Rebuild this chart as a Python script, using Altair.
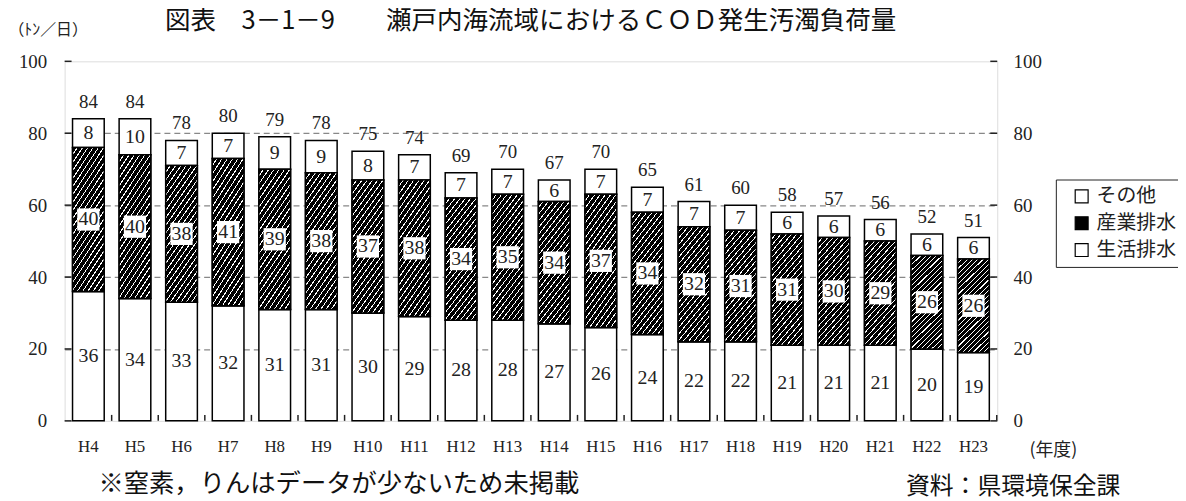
import altair as alt
import pandas as pd

# ---- data ----
years = ["H4", "H5", "H6", "H7", "H8", "H9", "H10", "H11", "H12", "H13",
         "H14", "H15", "H16", "H17", "H18", "H19", "H20", "H21", "H22", "H23"]
domestic = [36, 34, 33, 32, 31, 31, 30, 29, 28, 28, 27, 26, 24, 22, 22, 21, 21, 21, 20, 19]   # 生活排水
industry = [40, 40, 38, 41, 39, 38, 37, 38, 34, 35, 34, 37, 34, 32, 31, 31, 30, 29, 26, 26]   # 産業排水
other = [8, 10, 7, 7, 9, 9, 8, 7, 7, 7, 6, 7, 7, 7, 7, 6, 6, 6, 6, 6]                          # その他
totals = [84, 84, 78, 80, 79, 78, 75, 74, 69, 70, 67, 70, 65, 61, 60, 58, 57, 56, 52, 51]
series_names = ["その他", "産業排水", "生活排水"]
y_ticks = [0, 20, 40, 60, 80, 100]

title_text = "図表　3－1－9　　瀬戸内海流域におけるＣＯＤ発生汚濁負荷量"
unit_text = "（ﾄﾝ／日）"
xtitle_text = "(年度)"
note_text = "※窒素，りんはデータが少ないため未掲載"
source_text = "資料：県環境保全課"

rows = []
for i, yr in enumerate(years):
    for name, vals, order in (("生活排水", domestic, 0), ("産業排水", industry, 1), ("その他", other, 2)):
        rows.append({"year": yr, "series": name, "value": vals[i], "ord": order})
df = pd.DataFrame(rows)
tot_df = pd.DataFrame({"year": years, "total": totals})
ticks_df = pd.DataFrame({"v": y_ticks})
years_df = pd.DataFrame({"year": years})

W, H = 939, 362
SERIF = "Liberation Serif"
JP = "Noto Sans CJK JP"

x_scale = alt.Scale(domain=years, paddingInner=0.32, paddingOuter=0.17)
y_scale = alt.Scale(domain=[0, 100], nice=False)

x_axis = alt.Axis(title=xtitle_text, labelAngle=0, ticks=False, domain=False,
                  labelPadding=18, labelFont=SERIF, labelFontSize=17, labelColor="#222",
                  titleX=995, titleY=30, titleAlign="center", titleBaseline="middle",
                  titleFont=JP, titleFontSize=18, titleFontWeight="normal", titleColor="#222")
x_enc = alt.X("year:N", scale=x_scale, sort=years, axis=x_axis)

left_axis = alt.Axis(values=y_ticks, title=unit_text, titleAngle=0, titleAlign="left",
                     titleBaseline="middle", titleX=-57, titleY=-32, titleFont=JP,
                     titleFontSize=16, titleFontWeight="normal", titleColor="#222",
                     labelPadding=18, labelFont=SERIF, labelFontSize=19, labelColor="#222",
                     ticks=False, domain=False,
                     grid=True, gridDash=[6, 4], gridColor="#888", gridWidth=1.2,
                     gridOpacity={"condition": {"test": "datum.value == 0 || datum.value == 100", "value": 0},
                                  "value": 1})
right_axis = alt.Axis(orient="right", values=y_ticks, title=None, labelPadding=16,
                      labelFont=SERIF, labelFontSize=19, labelColor="#222",
                      ticks=False, domain=False, grid=False)

# hatch: black with thin white "/" stripes (gradient covers the whole box, no padded corner)
N = 24
stops = []
for i in range(N):
    s = i / N
    m = (i + 0.78) / N
    e = (i + 1) / N
    stops += [alt.GradientStop(color="black", offset=s), alt.GradientStop(color="black", offset=m),
              alt.GradientStop(color="white", offset=m), alt.GradientStop(color="white", offset=e)]
hatch = alt.LinearGradient(gradient="linear", stops=stops, x1=0, y1=0, x2=0.4, y2=1.2)

base = alt.Chart(df).transform_stack(
    stack="value", groupby=["year"], as_=["y0", "y1"], sort=[alt.SortField("ord", order="ascending")]
).transform_calculate(mid="(datum.y0 + datum.y1) / 2")

bars = base.mark_bar(stroke="black", strokeWidth=1.5).encode(
    x=x_enc,
    y=alt.Y("y0:Q", scale=y_scale, axis=left_axis),
    y2="y1:Q",
    fill=alt.Fill("series:N", scale=alt.Scale(domain=series_names, range=["white", "black", "white"]),
                  legend=alt.Legend(title=None, orient="none", legendX=998, legendY=119,
                                    symbolType="square", symbolSize=169, symbolStrokeColor="black",
                                    symbolStrokeWidth=1.2, labelFont=JP, labelFontSize=20,
                                    labelColor="#222", strokeColor="#222", fillColor="white",
                                    padding=7, rowPadding=7, symbolOffset=9, labelOffset=5)),
)

hatched = base.transform_filter("datum.series == '産業排水'").mark_bar(
    fill=hatch, stroke="black", strokeWidth=1.5
).encode(x=x_enc, y=alt.Y("y0:Q", scale=y_scale, axis=None), y2="y1:Q")

boxes = base.transform_filter("datum.series == '産業排水'").mark_point(
    shape="square", filled=True, color="white", size=500, opacity=1, strokeWidth=0
).encode(x=x_enc, y=alt.Y("mid:Q", scale=y_scale, axis=None))

seg_labels = base.mark_text(font=SERIF, fontSize=20, color="#222", baseline="middle").encode(
    x=x_enc, y=alt.Y("mid:Q", scale=y_scale, axis=None), text="value:Q")

tot_labels = alt.Chart(tot_df).mark_text(font=SERIF, fontSize=19, color="#222", baseline="middle", dy=-17).encode(
    x=x_enc, y=alt.Y("total:Q", scale=y_scale, axis=None), text="total:Q")

left_ticks = alt.Chart(ticks_df).mark_rule(color="#222", strokeWidth=1.5).encode(
    y=alt.Y("v:Q", scale=y_scale, axis=None), x=alt.value(0), x2=alt.value(7))

right_ticks = alt.Chart(ticks_df).mark_rule(color="#222", strokeWidth=1.5).encode(
    y=alt.Y("v:Q", scale=y_scale, axis=right_axis), x=alt.value(W - 7), x2=alt.value(W))

bottom_ticks = alt.Chart(years_df).mark_rule(color="#222", strokeWidth=1.5, xOffset=7.5).encode(
    x=alt.X("year:N", scale=x_scale, sort=years, axis=x_axis, bandPosition=1),
    y=alt.value(H), y2=alt.value(H - 6))

title_mark = alt.Chart(pd.DataFrame({"t": [title_text]})).mark_text(
    font=JP, fontSize=25.7, fontWeight="normal", color="#111", align="left", baseline="middle").encode(
    x=alt.value(101), y=alt.value(-41), text="t:N")
note_mark = alt.Chart(pd.DataFrame({"t": [note_text]})).mark_text(
    font=JP, fontSize=25.5, color="#111", align="left", baseline="middle").encode(
    x=alt.value(34), y=alt.value(426), text="t:N")
src_mark = alt.Chart(pd.DataFrame({"t": [source_text]})).mark_text(
    font=JP, fontSize=24, color="#111", align="right", baseline="middle").encode(
    x=alt.value(1063), y=alt.value(429), text="t:N")

chart = alt.layer(
    bars, hatched, boxes, seg_labels, tot_labels, left_ticks, right_ticks, bottom_ticks,
    title_mark, note_mark, src_mark
).properties(
    width=W, height=H,
    padding={"left": 57, "top": 52, "right": 182, "bottom": 79},
    autosize=alt.AutoSizeParams(type="none"),
).resolve_scale(y="shared").resolve_axis(y="independent").configure_view(
    stroke="#222", strokeWidth=2
).configure(background="white")

chart.save("out.html", embed_options={"renderer": "svg", "actions": False})
